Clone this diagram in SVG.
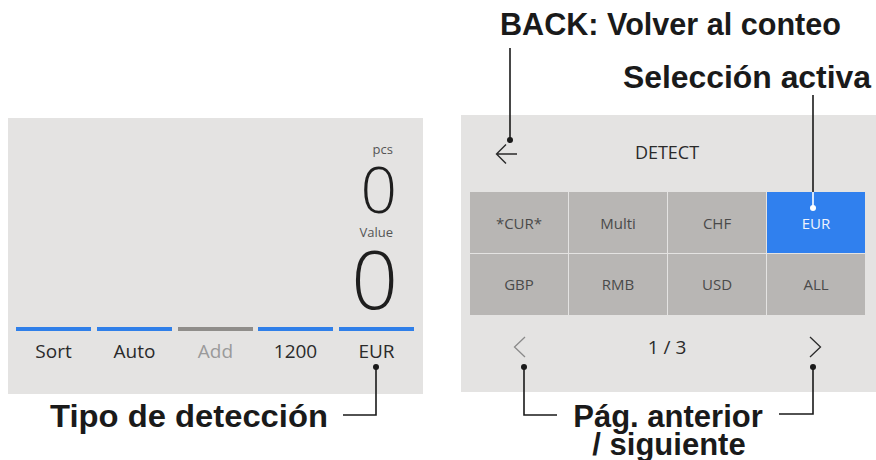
<svg xmlns="http://www.w3.org/2000/svg" width="876" height="460" viewBox="0 0 876 460">
<defs>
<style>
.ui{font-family:"Open Sans","Noto Sans","DejaVu Sans",sans-serif;fill:#2a2a2a}
.lbl{font-size:19px;text-anchor:middle}
.cell{font-size:15px;text-anchor:middle;fill:#4a4a4a}
.big{font-family:"Open Sans","Noto Sans",sans-serif;font-weight:300;fill:#1e1e1e;text-anchor:end}
.small{font-family:"Open Sans","Noto Sans",sans-serif;font-size:13px;fill:#555;text-anchor:end}
.callout{font-family:"Liberation Sans",Arial,Helvetica,sans-serif;font-weight:bold;font-size:31px;fill:#1a1a1a}
.conn{fill:none;stroke:#1a1a1a;stroke-width:1.6}
.bar{fill:#2f7fe9}
.gcell{fill:#b8b6b4}
</style>
</defs>
<rect width="876" height="460" fill="#ffffff"/>

<g id="count-screen">
<rect x="8" y="118" width="415" height="276" fill="#e4e3e2"/>
<text class="small" x="393" y="154">pcs</text>
<text class="big" x="397" y="213" font-size="64">0</text>
<text class="small" x="393" y="237">Value</text>
<text class="big" x="398" y="309" font-size="82">0</text>
<rect class="bar" x="16" y="327" width="75" height="4"/>
<rect class="bar" x="97" y="327" width="75" height="4"/>
<rect x="178" y="327" width="75" height="4" fill="#8f8d8a"/>
<rect class="bar" x="258" y="327" width="75" height="4"/>
<rect class="bar" x="339" y="327" width="75" height="4"/>
<text class="ui lbl" x="53.5" y="358">Sort</text>
<text class="ui lbl" x="134.5" y="358">Auto</text>
<text class="ui lbl" x="215.5" y="358" style="fill:#9a9a9a">Add</text>
<text class="ui lbl" x="295.5" y="358">1200</text>
<text class="ui lbl" x="376.5" y="358">EUR</text>
</g>

<g id="detect-screen">
<rect x="461" y="115" width="415" height="277" fill="#e4e3e2"/>
<text class="ui" x="667" y="159" font-size="18" text-anchor="middle">DETECT</text>
<g id="back-arrow" fill="none" stroke="#2a2a2a" stroke-width="1.4">
<path d="M517 154 H496.5 M506 144.5 L496.5 154 L506 163.5"/>
</g>
<rect class="gcell" x="470" y="192" width="98" height="61"/>
<rect class="gcell" x="569" y="192" width="98" height="61"/>
<rect class="gcell" x="668" y="192" width="98" height="61"/>
<rect x="767" y="192" width="98" height="61" fill="#3080ee"/>
<rect class="gcell" x="470" y="254" width="98" height="61"/>
<rect class="gcell" x="569" y="254" width="98" height="61"/>
<rect class="gcell" x="668" y="254" width="98" height="61"/>
<rect class="gcell" x="767" y="254" width="98" height="61"/>
<text class="ui cell" x="519" y="229">*CUR*</text>
<text class="ui cell" x="618" y="229">Multi</text>
<text class="ui cell" x="717" y="229">CHF</text>
<text class="ui cell" x="816" y="229" style="fill:#eef3fd">EUR</text>
<text class="ui cell" x="519" y="290">GBP</text>
<text class="ui cell" x="618" y="290">RMB</text>
<text class="ui cell" x="717" y="290">USD</text>
<text class="ui cell" x="816" y="290">ALL</text>
<path d="M525 337 L514.5 347 L525 357" fill="none" stroke="#8a8a8a" stroke-width="1.3"/>
<path d="M810 337 L820.5 347 L810 357" fill="none" stroke="#2a2a2a" stroke-width="1.3"/>
<text class="ui" x="667" y="354" font-size="19" text-anchor="middle">1 / 3</text>
</g>

<g id="label-back">
<text class="callout" x="500" y="35" textLength="341" lengthAdjust="spacingAndGlyphs">BACK: Volver al conteo</text>
</g>
<g id="label-active">
<text class="callout" x="623" y="88" textLength="248" lengthAdjust="spacingAndGlyphs">Selección activa</text>
</g>
<g id="label-type">
<text class="callout" x="50" y="427" textLength="278" lengthAdjust="spacingAndGlyphs">Tipo de detección</text>
</g>
<g id="label-page">
<text class="callout" x="668" y="427" text-anchor="middle">Pág. anterior</text>
<text class="callout" x="669" y="455" text-anchor="middle">/ siguiente</text>
</g>

<g id="connectors">
<path class="conn" d="M510 48 V140"/>
<circle cx="510" cy="140" r="3" fill="#1a1a1a"/>
<path class="conn" d="M813 95 V192"/>
<path d="M813 192 V208" fill="none" stroke="#ffffff" stroke-width="1.6"/>
<circle cx="813" cy="208" r="3" fill="#ffffff"/>
<path class="conn" d="M376 367 V415 H343"/>
<circle cx="376" cy="367" r="3" fill="#1a1a1a"/>
<path class="conn" d="M524 367 V415 H557"/>
<circle cx="524" cy="367" r="3" fill="#1a1a1a"/>
<path class="conn" d="M813 367 V414 H779"/>
<circle cx="813" cy="367" r="3" fill="#1a1a1a"/>
</g>
</svg>
